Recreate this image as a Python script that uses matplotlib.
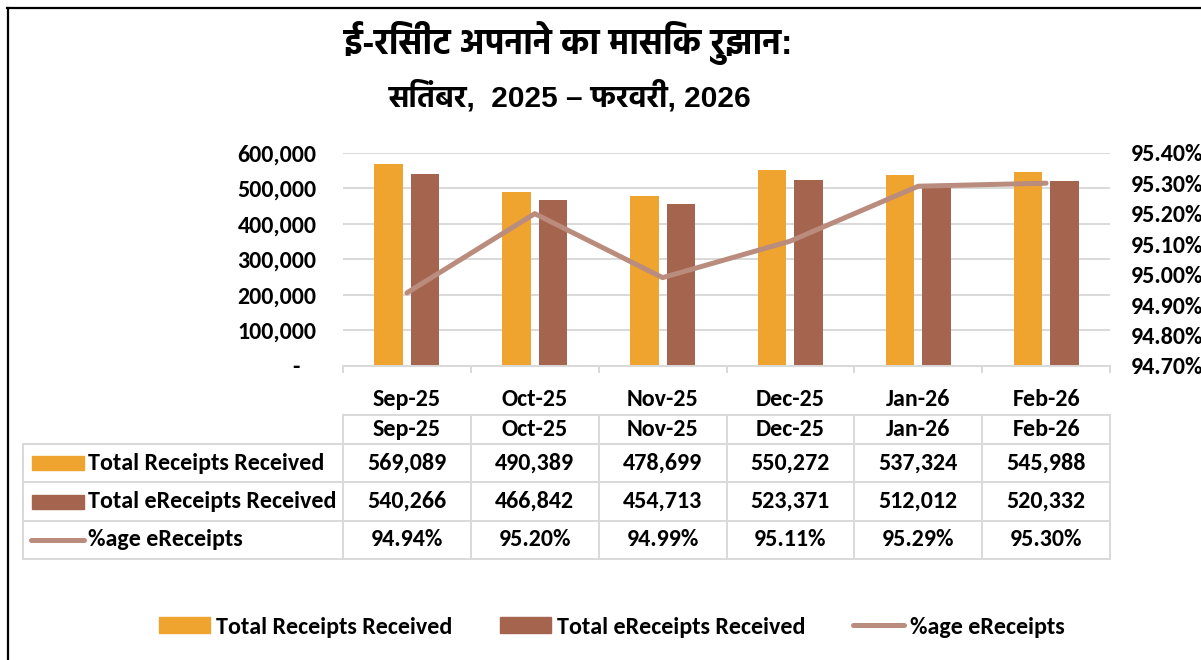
import matplotlib
matplotlib.use("Agg")
import matplotlib.pyplot as plt
from matplotlib.patches import Rectangle
from matplotlib.lines import Line2D
from matplotlib.ticker import FuncFormatter, MultipleLocator

# data
months = ['Sep-25', 'Oct-25', 'Nov-25', 'Dec-25', 'Jan-26', 'Feb-26']
total_receipts = [569089, 490389, 478699, 550272, 537324, 545988]
total_ereceipts = [540266, 466842, 454713, 523371, 512012, 520332]
pct_ereceipts = [94.94, 95.20, 94.99, 95.11, 95.29, 95.30]

series_names = ['Total Receipts Received', 'Total eReceipts Received', '%age eReceipts']
title_lines = ['ई-रिसीट अपनाने का मासिक रुझान:', 'सितंबर,  2025 – फरवरी, 2026']

c_orange = '#F0A430'
c_brown = '#A5644E'
c_line = '#B98C7D'
c_grid = '#D9D9D9'

W, H = 1201, 660
plt.rcParams['font.family'] = ['Carlito', 'DejaVu Sans']
plt.rcParams['font.weight'] = 'bold'
FS = 17.3

fig = plt.figure(figsize=(W / 100, H / 100), dpi=100)

# plot area in pixels
x0, x1, ytop, ybot = 343, 1110, 152.7, 366
ax = fig.add_axes([x0 / W, 1 - ybot / H, (x1 - x0) / W, (ybot - ytop) / H])
n = len(months)
xs = list(range(n))
bw = 0.223
off = 0.143
ax.bar([x - off for x in xs], total_receipts, width=bw, color=c_orange, zorder=2)
ax.bar([x + off for x in xs], total_ereceipts, width=bw, color=c_brown, zorder=2)
ax.set_xlim(-0.5, n - 0.5)
ax.set_ylim(0, 600000)
ax.yaxis.set_major_locator(MultipleLocator(100000))
ax.yaxis.set_major_formatter(FuncFormatter(lambda v, p: '-   ' if v == 0 else '{:,.0f}'.format(v)))
ax.grid(axis='y', color=c_grid, lw=1.4, zorder=0)
ax.set_axisbelow(True)
for s in ['top', 'left', 'right']:
    ax.spines[s].set_visible(False)
ax.spines['bottom'].set_color(c_grid)
ax.spines['bottom'].set_linewidth(1.4)
ax.set_xticks(xs)
ax.set_xticklabels(months)
ax.set_xticks([x - 0.5 for x in range(n + 1)], minor=True)
ax.tick_params(axis='x', which='major', length=0, pad=16.5, labelsize=FS)
ax.tick_params(axis='x', which='minor', length=5, width=1.4, color=c_grid)
ax.tick_params(axis='y', length=0, pad=19, labelsize=FS)

ax2 = ax.twinx()
ax2.plot(xs, pct_ereceipts, color=c_line, lw=3.6, solid_capstyle='round', zorder=3)
ax2.set_ylim(94.70, 95.40)
ax2.yaxis.set_major_locator(MultipleLocator(0.1))
ax2.yaxis.set_major_formatter(FuncFormatter(lambda v, p: '{:.2f}%'.format(v)))
ax2.tick_params(axis='y', length=0, pad=15, labelsize=FS)
for s in ax2.spines.values():
    s.set_visible(False)

# overlay in pixel coordinates for title, table, legend and frame
ov = fig.add_axes([0, 0, 1, 1])
ov.set_xlim(0, W)
ov.set_ylim(H, 0)
ov.axis('off')
ov.patch.set_visible(False)

ov.plot([7, W], [8, 8], color='black', lw=1.6)
ov.plot([8, 8], [8, H], color='black', lw=1.6)

tfam = ['Liberation Sans', 'Hind']
ov.text(568, 43, title_lines[0], family=tfam, weight='bold', fontsize=25, ha='center', va='center')
ov.text(570, 96, title_lines[1], family=tfam, weight='bold', fontsize=21.5, ha='center', va='center')

# data table
colw = (x1 - x0) / n
tl = 23
hdr_top, rows_y = 415, [444, 482, 521, 559]
lk = dict(color=c_grid, lw=1.4)
ov.plot([x0, x1], [hdr_top, hdr_top], **lk)
for y in rows_y:
    ov.plot([tl, x1], [y, y], **lk)
ov.plot([tl, tl], [rows_y[0], rows_y[-1]], **lk)
for i in range(n + 1):
    ov.plot([x0 + i * colw] * 2, [hdr_top, rows_y[-1]], **lk)
for i, m in enumerate(months):
    ov.text(x0 + (i + 0.5) * colw, (hdr_top + rows_y[0]) / 2, m, fontsize=FS, ha='center', va='center')

row_vals = [['{:,}'.format(v) for v in total_receipts],
            ['{:,}'.format(v) for v in total_ereceipts],
            ['{:.2f}%'.format(v) for v in pct_ereceipts]]
for r in range(3):
    yc = (rows_y[r] + rows_y[r + 1]) / 2
    for i, v in enumerate(row_vals[r]):
        ov.text(x0 + (i + 0.5) * colw, yc, v, fontsize=FS, ha='center', va='center')
    ov.text(88, yc, series_names[r], fontsize=FS, ha='left', va='center')
    if r < 2:
        ov.add_patch(Rectangle((32, yc - 7), 52, 14, color=[c_orange, c_brown][r]))
    else:
        ov.plot([31, 84], [yc, yc], color=c_line, lw=3.6, solid_capstyle='round')

# legend
handles = [Rectangle((0, 0), 1, 1, color=c_orange),
           Rectangle((0, 0), 1, 1, color=c_brown),
           Line2D([0], [0], color=c_line, lw=3.6, solid_capstyle='round')]
fig.legend(handles, series_names, loc='center', bbox_to_anchor=(612 / W, 1 - 627 / H),
           ncol=3, frameon=False, fontsize=FS, handlelength=2.1, handleheight=0.6,
           handletextpad=0.25, columnspacing=2.0)

fig.savefig('out.png', dpi=100)
